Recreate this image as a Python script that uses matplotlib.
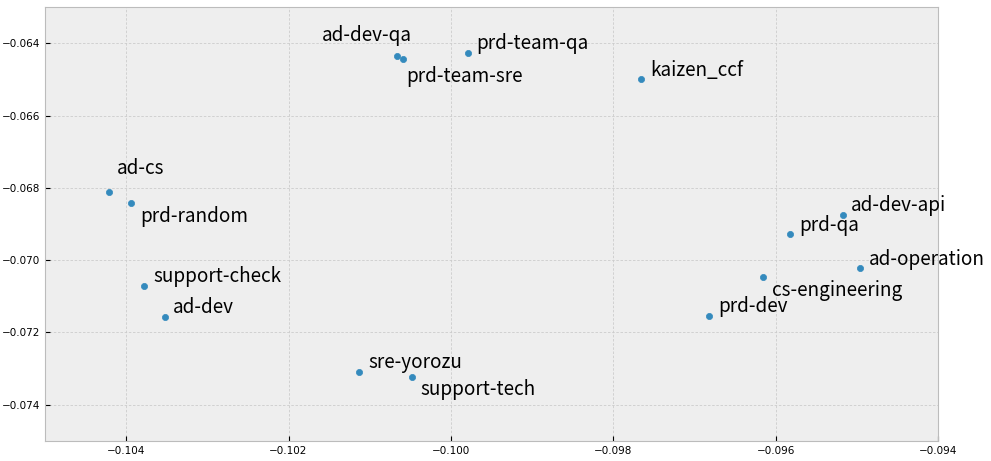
import matplotlib
matplotlib.use("Agg")
import matplotlib.pyplot as plt

plt.style.use("bmh")

# 2-D embedding of team channels
names = ["ad-cs", "prd-random", "support-check", "ad-dev", "sre-yorozu",
         "support-tech", "ad-dev-qa", "prd-team-sre", "prd-team-qa",
         "kaizen_ccf", "ad-dev-api", "prd-qa", "ad-operation",
         "cs-engineering", "prd-dev"]
xs = [-0.10421, -0.10394, -0.10378, -0.10352, -0.10113,
      -0.10048, -0.10066, -0.10059, -0.09979,
      -0.09766, -0.09517, -0.09582, -0.09496,
      -0.09616, -0.09682]
ys = [-0.06812, -0.06842, -0.07071, -0.07157, -0.07309,
      -0.07323, -0.06435, -0.06444, -0.06427,
      -0.06499, -0.06875, -0.06928, -0.07022,
      -0.07047, -0.07154]

# label placement offsets (pixels) so labels do not collide
offsets = [(8, 24), (9, -13), (9, 9), (8, 9), (9, 9),
           (9, -13), (-75, 20), (3, -17), (8, 9),
           (9, 8), (8, 9), (9, 9), (9, 9),
           (9, -13), (9, 9)]

fig = plt.figure(figsize=(9.91, 4.61), dpi=100)
ax = fig.add_axes([0.0454, 0.0434, 0.9011, 0.9414])
ax.scatter(xs, ys, s=20, color="#348ABD", zorder=3)

for name, x, y, (dx, dy) in zip(names, xs, ys, offsets):
    ax.annotate(name, (x, y), xytext=(dx, dy), textcoords="offset pixels",
                ha="left", va="center", fontsize=13.6,
                family=["Noto Sans CJK JP", "DejaVu Sans"], color="black")

ax.set_xlim(-0.105, -0.094)
ax.set_ylim(-0.075, -0.063)
ax.set_xticks([-0.104, -0.102, -0.100, -0.098, -0.096, -0.094])
ax.set_yticks([-0.064, -0.066, -0.068, -0.070, -0.072, -0.074])
ax.tick_params(labelsize=7.5)
ax.grid(True, color="#cccccc", linestyle=(0, (3, 2)), linewidth=0.6)

fig.savefig("out.png", dpi=100)
